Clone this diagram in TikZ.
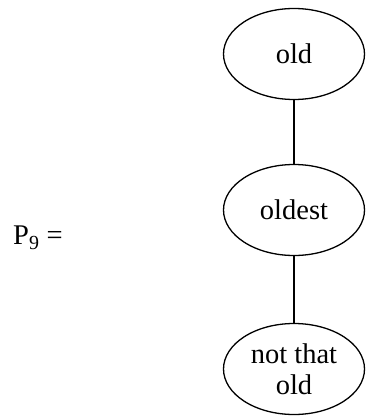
\documentclass[tikz,border=0pt]{standalone}
\usepackage{fontspec}
\setmainfont{Liberation Serif}
\usetikzlibrary{shapes.geometric}
\tikzset{age/.style={ellipse,draw,line width=1.3pt,minimum width=141pt,minimum height=91pt,inner sep=0pt,align=center},
  link/.style={line width=1.3pt}}

\begin{document}
\begin{tikzpicture}[x=1pt,y=-1pt,font=\fontsize{28.5}{31}\selectfont]
\useasboundingbox (0,0) rectangle (365,417);
\node (pname) at (38,238) {P\textsubscript{9} =};
\node[age] (old) at (294,54) {old};
\node[age] (oldest) at (294,210) {oldest};
\node[age] (notold) at (294,369) {not that\\old};
\draw[link] (old) -- (oldest);
\draw[link] (oldest) -- (notold);
\end{tikzpicture}
\end{document}
